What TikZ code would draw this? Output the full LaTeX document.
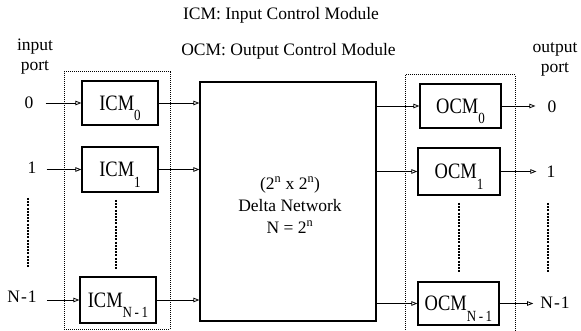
\documentclass[tikz,border=0pt]{standalone}
\usepackage{fontspec}
\setmainfont{Liberation Serif}
\newfontfamily\bxf[FakeStretch=0.84]{Liberation Serif}
\usetikzlibrary{arrows.meta}
\newcommand{\lowsub}[1]{\raisebox{-10.5pt}[0pt][0pt]{\fontsize{15.5}{15.5}\selectfont #1}}
\begin{document}
\begin{tikzpicture}[x=1pt,y=-1pt,
  txt/.style={inner sep=0pt,font=\fontsize{17.5}{20}\selectfont},
  modbox/.style={draw,line width=1.2pt,inner sep=0pt,font=\bxf\fontsize{22}{22}\selectfont},
  grpbox/.style={draw,line width=1pt,dash pattern=on 1pt off 1pt,inner sep=0pt},
  netbox/.style={draw,line width=1.2pt,inner sep=0pt},
  arr/.style={line width=0.8pt,-{Triangle[open,length=6pt,width=4.5pt]}},
  vdots/.style={line width=2pt,dash pattern=on 2pt off 1.2pt}
]
\useasboundingbox (0,0) rectangle (581,331);

% headings
\node[txt] (t1) at (281,15) {ICM: Input Control Module};
\node[txt] (t2) at (288.5,51) {OCM: Output Control Module};
\node[txt,align=center] (inp) at (35,57) {input\\port};
\node[txt,align=center] (outp) at (555,59) {output\\port};

% group boxes
\node[grpbox,minimum width=106pt,minimum height=257pt] (grpI) at (117,200.5) {};
\node[grpbox,minimum width=110pt,minimum height=258pt] (grpO) at (460,204) {};

% delta network
\node[netbox,minimum width=176pt,minimum height=239pt] (delta) at (288,201.5) {};
\node[txt,align=center,font=\fontsize{17.5}{22}\selectfont] (dtext) at (290,205)
  {(2\textsuperscript{n} x 2\textsuperscript{n})\\Delta Network\\N = 2\textsuperscript{n}};

% ICM boxes
\node[modbox,minimum width=76pt,minimum height=44pt] (icm0) at (120,103) {ICM\lowsub{0}\hspace{6pt}};
\node[modbox,minimum width=76pt,minimum height=45pt] (icm1) at (120,169.5) {ICM\lowsub{1}\hspace{6pt}};
\node[modbox,minimum width=76pt,minimum height=46pt] (icmN) at (118,300) {ICM\lowsub{N\,-\,1}\hspace{18pt}};

% OCM boxes
\node[modbox,minimum width=81pt,minimum height=44pt] (ocm0) at (460.5,106) {OCM\lowsub{0}\hspace{6pt}};
\node[modbox,minimum width=82pt,minimum height=47pt] (ocm1) at (459,171.5) {OCM\lowsub{1}\hspace{6pt}};
\node[modbox,minimum width=81pt,minimum height=43pt] (ocmN) at (458.5,303.5) {OCM\lowsub{N\,-\,1}\hspace{18pt}};

% input port labels
\node[txt] (in0) at (29,103) {0};
\node[txt] (in1) at (32,168) {1};
\node[txt] (inN) at (22,297) {N\kern1pt-\kern1pt1};

% output port labels
\node[txt] (out0) at (552,107) {0};
\node[txt] (out1) at (551,172) {1};
\node[txt] (outN) at (555,303) {N\kern1pt-\kern1pt1};

% input arrows
\draw[arr,shorten <=12pt] (in0.east) -- (icm0.west);
\draw[arr,shorten <=10pt] (in1.east |- icm1.west) -- (icm1.west);
\draw[arr,shorten <=10pt] (inN.east |- icmN.west) -- (icmN.west);

% ICM to delta
\draw[arr] (icm0.east) -- (icm0.east -| delta.west);
\draw[arr] (icm1.east) -- (icm1.east -| delta.west);
\draw[arr] (icmN.east) -- (icmN.east -| delta.west);

% delta to OCM
\draw[arr] (delta.east |- ocm0.west) -- (ocm0.west);
\draw[arr] (delta.east |- ocm1.west) -- (ocm1.west);
\draw[arr] (delta.east |- ocmN.west) -- (ocmN.west);

% output arrows
\draw[arr,shorten >=12pt] (ocm0.east) -- (ocm0.east -| out0.west);
\draw[arr,shorten >=10pt] (ocm1.east) -- (ocm1.east -| out1.west);
\draw[arr,shorten >=7pt] (ocmN.east) -- (ocmN.east -| outN.west);

% vertical ellipses
\coordinate (e1a) at (28,198); \coordinate (e1b) at (28,268);
\coordinate (e2a) at (116,200); \coordinate (e2b) at (116,270);
\coordinate (e3a) at (459,203); \coordinate (e3b) at (459,273);
\coordinate (e4a) at (548,203); \coordinate (e4b) at (548,273);
\draw[vdots] (e1a) -- (e1b);
\draw[vdots] (e2a) -- (e2b);
\draw[vdots] (e3a) -- (e3b);
\draw[vdots] (e4a) -- (e4b);
\end{tikzpicture}
\end{document}
